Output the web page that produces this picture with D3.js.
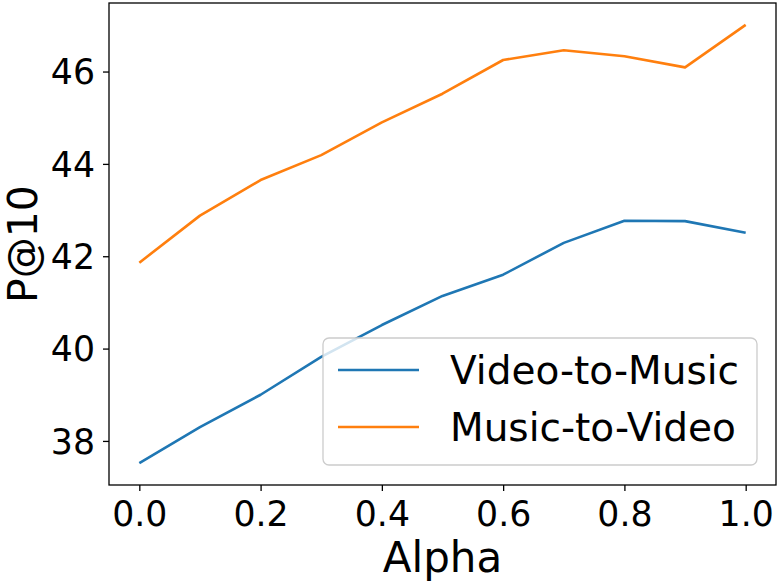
<!DOCTYPE html>
<html>
<head>
<meta charset="utf-8">
<script src="https://cdn.jsdelivr.net/npm/d3@7"></script>
<style>
  body { margin: 0; background: #fff; }
  svg { display: block; font-family: "DejaVu Sans", sans-serif; }
</style>
</head>
<body>
<div id="chart"></div>
<script>
const alphas = [0.0, 0.1, 0.2, 0.3, 0.4, 0.5, 0.6, 0.7, 0.8, 0.9, 1.0];
const videoToMusic = [37.52, 38.3, 39.0, 39.82, 40.51, 41.14, 41.6, 42.29, 42.77, 42.76, 42.51];
const musicToVideo = [41.86, 42.88, 43.65, 44.19, 44.9, 45.52, 46.25, 46.46, 46.33, 46.09, 47.01];
const xTicks = [0.0, 0.2, 0.4, 0.6, 0.8, 1.0];
const yTicks = [38, 40, 42, 44, 46];
const seriesNames = ["Video-to-Music", "Music-to-Video"];
const colors = ["#1f77b4", "#ff7f0e"];

const W = 780, H = 584;
const margin = { top: 3, right: 4, bottom: 99, left: 109 };
const width = W - margin.left - margin.right;
const height = H - margin.top - margin.bottom;

const svg = d3.select("#chart").append("svg")
  .attr("width", W)
  .attr("height", H);

const g = svg.append("g")
  .attr("transform", `translate(${margin.left},${margin.top})`);

// matplotlib style 5% margins
const x = d3.scaleLinear().domain([-0.05, 1.05]).range([0, width]);
const allY = videoToMusic.concat(musicToVideo);
const yMin = d3.min(allY), yMax = d3.max(allY);
const pad = (yMax - yMin) * 0.05;
const y = d3.scaleLinear().domain([yMin - pad, yMax + pad]).range([height, 0]);

const tickFont = "34.7px";

const xAxis = g.append("g")
  .attr("transform", `translate(0,${height})`)
  .call(d3.axisBottom(x).tickValues(xTicks).tickFormat(d3.format(".1f"))
    .tickSize(6).tickPadding(6));
xAxis.select(".domain").remove();
xAxis.selectAll("line").attr("stroke", "#000").attr("stroke-width", 1.3);
xAxis.selectAll("text")
  .attr("fill", "#000")
  .style("font-size", tickFont)
  .style("font-family", "DejaVu Sans")
  .attr("dy", null)
  .attr("y", 41);

const yAxis = g.append("g")
  .call(d3.axisLeft(y).tickValues(yTicks).tickFormat(d3.format("d"))
    .tickSize(6).tickPadding(8));
yAxis.select(".domain").remove();
yAxis.selectAll("line").attr("stroke", "#000").attr("stroke-width", 1.3);
yAxis.selectAll("text")
  .attr("fill", "#000")
  .style("font-size", tickFont)
  .style("font-family", "DejaVu Sans")
  .attr("dy", "0.35em");

// lines
const line = d3.line()
  .x((d, i) => x(alphas[i]))
  .y(d => y(d));

[videoToMusic, musicToVideo].forEach((s, k) => {
  g.append("path")
    .datum(s)
    .attr("fill", "none")
    .attr("stroke", colors[k])
    .attr("stroke-width", 2.6)
    .attr("stroke-linejoin", "round")
    .attr("d", line);
});

// frame
g.append("rect")
  .attr("width", width)
  .attr("height", height)
  .attr("fill", "none")
  .attr("stroke", "#000")
  .attr("stroke-width", 1.3);

// legend
const lg = g.append("g").attr("transform", `translate(${323 - margin.left},${338 - margin.top})`);
lg.append("rect")
  .attr("width", 434)
  .attr("height", 127)
  .attr("rx", 6)
  .attr("fill", "#fff")
  .attr("fill-opacity", 0.8)
  .attr("stroke", "#cccccc")
  .attr("stroke-width", 1.3);

seriesNames.forEach((name, k) => {
  const yy = 32 + k * 57;
  lg.append("line")
    .attr("x1", 15).attr("x2", 96)
    .attr("y1", yy).attr("y2", yy)
    .attr("stroke", colors[k])
    .attr("stroke-width", 2.6);
  lg.append("text")
    .attr("x", 127)
    .attr("y", yy + 13.5)
    .attr("fill", "#000")
    .style("font-size", "39px")
    .text(name);
});

// axis labels
svg.append("text")
  .attr("x", margin.left + width / 2)
  .attr("y", 572)
  .attr("text-anchor", "middle")
  .style("font-size", "42px")
  .text("Alpha");

svg.append("text")
  .attr("transform", `translate(37,${margin.top + height / 2}) rotate(-90)`)
  .attr("text-anchor", "middle")
  .style("font-size", "41px")
  .text("P@10");
</script>
</body>
</html>
